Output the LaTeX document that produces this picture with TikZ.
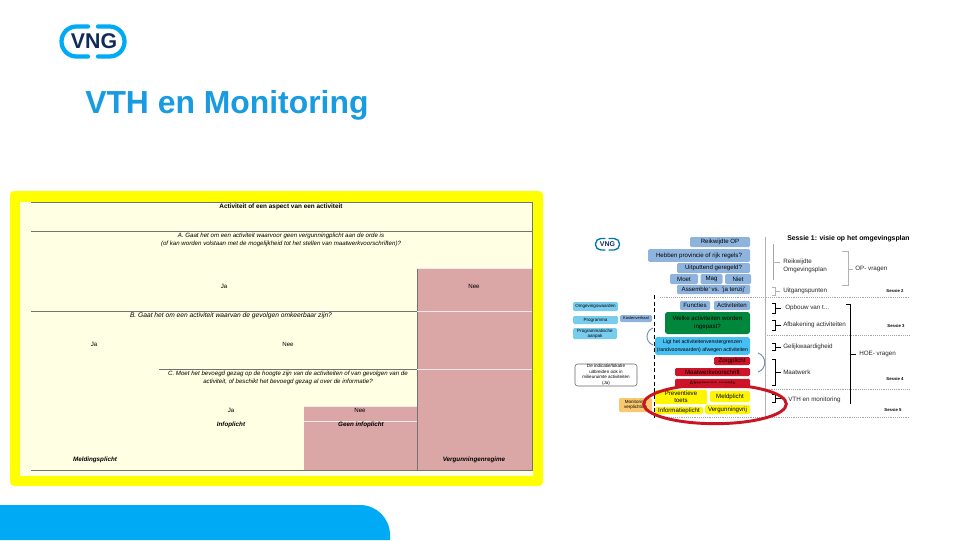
\documentclass[tikz,border=0pt]{standalone}
\usepackage{fontspec}
\setmainfont{Liberation Sans}
\usetikzlibrary{positioning,shapes.geometric}
\definecolor{vngblue}{RGB}{0,170,245}
\definecolor{vngnavy}{RGB}{16,42,90}
\definecolor{titleblue}{RGB}{24,155,225}
\definecolor{panelyellow}{RGB}{255,255,0}
\definecolor{panelcream}{RGB}{255,255,228}
\definecolor{panelpink}{RGB}{218,166,166}
\definecolor{pillblue}{RGB}{142,180,222}
\definecolor{skyblue}{RGB}{120,205,238}
\definecolor{flowgreen}{RGB}{0,135,60}
\definecolor{flowred}{RGB}{205,20,40}
\definecolor{flowyellow}{RGB}{255,245,0}
\definecolor{floworange}{RGB}{250,200,110}
\definecolor{ringred}{RGB}{200,20,35}

\begin{document}
\begin{tikzpicture}[
    x=0.75pt, y=-0.75pt,
    every node/.style={inner sep=0pt, align=center, text=black},
    tiny/.style={font=\fontsize{4.6}{6}\selectfont},
    tinyit/.style={font=\fontsize{4.6}{6}\selectfont\itshape},
    tinybf/.style={font=\fontsize{4.8}{6}\selectfont\bfseries},
    tinybi/.style={font=\fontsize{4.7}{6}\selectfont\bfseries\itshape},
    pill/.style={rectangle, fill=pillblue, rounded corners=1pt, font=\fontsize{4.6}{6}\selectfont},
    sky/.style={rectangle, fill=skyblue, rounded corners=1pt, font=\fontsize{3.4}{4.5}\selectfont},
    redbox/.style={rectangle, fill=flowred, rounded corners=1pt, font=\fontsize{4.6}{6}\selectfont},
    yellowbox/.style={rectangle, fill=flowyellow, rounded corners=1pt, font=\fontsize{4.6}{5.4}\selectfont},
    side/.style={font=\fontsize{4.7}{6.4}\selectfont, align=left, anchor=west, text=black!85},
    sessie/.style={font=\fontsize{3.2}{4}\selectfont\bfseries},
    rule/.style={draw=black!55, line width=0.5pt},
    softrule/.style={draw=white!75!panelpink, line width=0.5pt},
    dotline/.style={draw=black!35, line width=0.4pt, densely dotted},
    hook/.style={draw=black, line width=0.5pt},
    softhook/.style={draw=black!30, line width=0.5pt},
    bluehook/.style={draw=pillblue!80!black, line width=0.7pt}
]
\useasboundingbox (0,0) rectangle (960,540);

% Kop
\fill[vngblue] (0,540) -- (0,505) -- (360,505) .. controls (376.6,505) and (390,518.4) .. (390,535) -- (390,540) -- cycle;
\draw[vngblue, line width=3.2pt, line cap=round, rounded corners=11.2pt] (88,26.5) -- (61.5,26.5) -- (61.5,56.5) -- (88,56.5);
\draw[vngblue, line width=3.2pt, line cap=round, rounded corners=11.2pt] (98,26.5) -- (124.5,26.5) -- (124.5,56.5) -- (98,56.5);
\node[font=\fontsize{16}{18}\selectfont\bfseries, text=vngnavy] (logo) at (94,41) {VNG};
\node[font=\fontsize{23.9}{28}\selectfont\bfseries, text=titleblue, anchor=base west] (title) at (85,113.5) {VTH en Monitoring};

% Linker paneel
\fill[panelyellow, rounded corners=3pt] (10,191) rectangle (543,486);
\fill[panelcream] (20,202) rectangle (533,476);
\fill[panelpink] (417,268) rectangle (532,470);
\fill[panelpink] (304,406) rectangle (417,470);
\draw[rule] (31,202) -- (532,202) -- (532,470) -- (31,470);
\draw[rule] (31,231.5) -- (532,231.5);
\draw[rule] (31,311) -- (417,311);
\draw[rule] (159,369) -- (417,369);
\draw[rule] (417,268) -- (417,470);
\draw[softrule] (417,311) -- (532,311);
\draw[softrule] (417,369) -- (532,369);
\draw[softrule] (304,421) -- (417,421);
\draw[softrule] (304,406) -- (417,406);
\draw[softrule] (417,268) -- (532,268);

\node[tinybf] (activiteit) at (281,206.5) {Activiteit of een aspect van een activiteit};
\node[tinyit] (vraaga) at (281,240) {A. Gaat het om een activiteit waarvoor geen vergunningplicht aan de orde is\\(of kan worden volstaan met de mogelijkheid tot het stellen van maatwerkvoorschriften)?};
\node[tiny] (jaa) at (224,286) {Ja};
\node[tiny] (neea) at (474,286) {Nee};
\node[tinyit, font=\fontsize{5}{6}\selectfont\itshape] (vraagb) at (231,316) {B. Gaat het om een activiteit waarvan de gevolgen omkeerbaar zijn?};
\node[tiny] (jab) at (94,344) {Ja};
\node[tiny] (neeb) at (288,344) {Nee};
\node[tinyit] (vraagc) at (288,377.5) {C. Moet het bevoegd gezag op de hoogte zijn van de activiteiten of van gevolgen van de\\activiteit, of beschikt het bevoegd gezag al over de informatie?};
\node[tiny] (jac) at (231,410) {Ja};
\node[tiny] (neec) at (360,410) {Nee};
\node[tinybi] (infoplicht) at (231,425) {Infoplicht};
\node[tinybi] (geeninfo) at (361,425) {Geen infoplicht};
\node[tinybi] (melding) at (95,460) {Meldingsplicht};
\node[tinybi] (vergunning) at (474,460) {Vergunningenregime};

% Rechter schema
\draw[vngblue!70!black, line width=1pt, line cap=round, rounded corners=4pt] (605,238.5) -- (595.5,238.5) -- (595.5,250) -- (605,250);
\draw[vngblue!70!black, line width=1pt, line cap=round, rounded corners=4pt] (609,238.5) -- (619.5,238.5) -- (619.5,250) -- (609,250);
\node[font=\fontsize{5.2}{6}\selectfont\bfseries, text=vngnavy] (logoklein) at (607.5,244.5) {VNG};

\node[pill, minimum width=45pt, minimum height=7.5pt] (reikwijdte) at (720,242) {Reikwijdte OP};
\node[pill, minimum width=76.5pt, minimum height=9.5pt] (regels) at (699,255.5) {Hebben provincie of rijk regels?};
\node[pill, minimum width=54.75pt, minimum height=7.5pt] (uitputtend) at (713.5,268) {Uitputtend geregeld?};
\node[pill, minimum width=21pt, minimum height=7.5pt] (moet) at (684,279) {Moet};
\node[pill, minimum width=16.5pt, minimum height=7.5pt, right=1.5pt of moet] (mag) {Mag};
\node[pill, minimum width=19.5pt, minimum height=7.5pt, right=1.5pt of mag] (niet) {Niet};
\node[pill, minimum width=54.75pt, minimum height=7pt] (assemble) at (713.5,289.5) {Assemble' vs. 'ja tenzij'};
\node[pill, minimum width=22.5pt, minimum height=7pt] (functies) at (695,305.5) {Functies};
\node[pill, minimum width=27pt, minimum height=7pt] (activiteiten) at (732,305.5) {Activiteiten};
\node[rectangle, fill=flowgreen, rounded corners=2pt, minimum width=63.75pt, minimum height=16.5pt, font=\fontsize{4.6}{6}\selectfont] (welke) at (707.5,323) {Welke activiteiten worden\\ingepast?};
\node[sky, fill=skyblue!60!vngblue, rounded corners=2pt, minimum width=71.25pt, minimum height=13.5pt, font=\fontsize{3.9}{5.6}\selectfont] (venster) at (702.5,346) {Ligt het activiteitenvenstergrenzen\\(randvoorwaarden) afwegen activiteiten};
\node[redbox, minimum width=27pt, minimum height=6pt] (zorgplicht) at (732,361) {Zorgplicht};
\node[redbox, minimum width=56.25pt, minimum height=6pt] (maatwerk) at (712.5,372) {Maatwerkvoorschrift};
\node[redbox, minimum width=56.25pt, minimum height=7pt] (regelsrood) at (712.5,383.5) {Algemene regels};
\node[yellowbox, minimum width=39pt, minimum height=10.5pt] (preventief) at (681,397) {Preventieve\\toets};
\node[yellowbox, minimum width=30pt, minimum height=8.25pt] (meldplicht) at (730,396.5) {Meldplicht};
\node[yellowbox, minimum width=36pt, minimum height=5.25pt] (informatie) at (679,410.5) {Informatieplicht};
\node[yellowbox, minimum width=33.75pt, minimum height=6.75pt] (vrij) at (727.5,409.5) {Vergunningvrij};

\node[sky, minimum width=33.75pt, minimum height=6.75pt] (waarden) at (595.5,306.5) {Omgevingswaarden};
\node[sky, minimum width=33.75pt, minimum height=6pt] (programma) at (595.5,320) {Programma};
\node[sky, minimum width=33pt, minimum height=8.25pt, font=\fontsize{3.4}{3.8}\selectfont] (aanpak) at (595,333.5) {Programmatische\\aanpak};
\node[sky, fill=pillblue, minimum width=24pt, minimum height=5.25pt, font=\fontsize{3}{4}\selectfont] (kosten) at (636,318.5) {Kostenverhaal};
\node[rectangle, draw=black!60, fill=white, rounded corners=2pt, line width=0.4pt, minimum width=46.5pt, minimum height=16.5pt, font=\fontsize{3.4}{4.1}\selectfont] (indicatie) at (606,375) {De indicatie/lokatie\\uitbreiden ook in\\milieuruimte activiteiten\\(Ja)};
\node[rectangle, fill=floworange, rounded corners=1pt, minimum width=24.75pt, minimum height=10.5pt, font=\fontsize{3.4}{4.2}\selectfont] (monitoringv) at (635.5,405) {Monitoring\\verplichting};

\draw[black, line width=0.6pt, densely dashed] (654,295) -- (654,418);
\draw[dotline] (660,297) -- (910,297);
\draw[dotline] (765,335) -- (910,335);
\draw[dotline] (765,389) -- (910,389);
\draw[dotline] (660,417) -- (910,417);
\draw[bluehook] (653,328) .. controls (645,331) and (645,342) .. (653,345);
\draw[bluehook] (758,353) .. controls (767,356) and (767,369) .. (758,372);

% Rechterkolom
\draw[draw=black!30, line width=0.5pt] (765,237) -- (765,418);
\node[font=\fontsize{5.15}{7}\selectfont\bfseries, anchor=west] (sessie) at (787,239) {Sessie 1: visie op het omgevingsplan};
\draw[bluehook, draw=black!35] (773,244) -- (773,280);
\draw[softhook] (773,262) -- (780,262);
\node[side] (reik) at (783,266) {Reikwijdte\\Omgevingsplan};
\draw[softhook] (842,251) -- (848,251) -- (848,285) -- (842,285);
\draw[softhook] (848,269) -- (853,269);
\node[side] (opvragen) at (855,269) {OP- vragen};
\draw[softhook] (772,287) -- (775,287) -- (775,295) -- (772,295);
\draw[softhook] (775,291) -- (780,291);
\node[side] (uitgang) at (783,291) {Uitgangspunten};
\node[sessie] (sessie2) at (895,291) {Sessie 2};

\draw[hook] (772,303) -- (775,303) -- (775,313) -- (772,313);
\draw[hook] (775,308) -- (781,308);
\node[side] (opbouw) at (785,308) {Opbouw van t...};
\draw[hook] (772,320) -- (775,320) -- (775,330) -- (772,330);
\draw[hook] (775,325) -- (781,325);
\node[side] (afbakening) at (783,324.5) {Afbakening activiteiten};
\node[sessie] (sessie3) at (896,326) {Sessie 3};
\draw[hook] (772,343) -- (775,343) -- (775,350) -- (772,350);
\draw[hook] (775,347) -- (781,347);
\node[side] (gelijk) at (783,347) {Gelijkwaardigheid};
\draw[hook] (772,359) -- (775,359) -- (775,385) -- (772,385);
\draw[hook] (775,372) -- (781,372);
\node[side] (maatw) at (783,372) {Maatwerk};
\node[sessie] (sessie4) at (895,379) {Sessie 4};
\draw[hook] (772,394) -- (775,394) -- (775,402) -- (772,402);
\draw[hook] (775,398) -- (785,398);
\node[side] (vth) at (788,400) {VTH en monitoring};
\node[sessie] (sessie5) at (893,410) {Sessie 5};
\draw[hook] (846,304) -- (850,304) -- (850,404);
\draw[hook] (850,354) -- (856,354);
\node[side] (hoe) at (859,354) {HOE- vragen};

\node[ellipse, draw=ringred, line width=2.2pt, minimum width=107pt, minimum height=29.5pt] (ring) at (715,404) {};

\end{tikzpicture}
\end{document}
